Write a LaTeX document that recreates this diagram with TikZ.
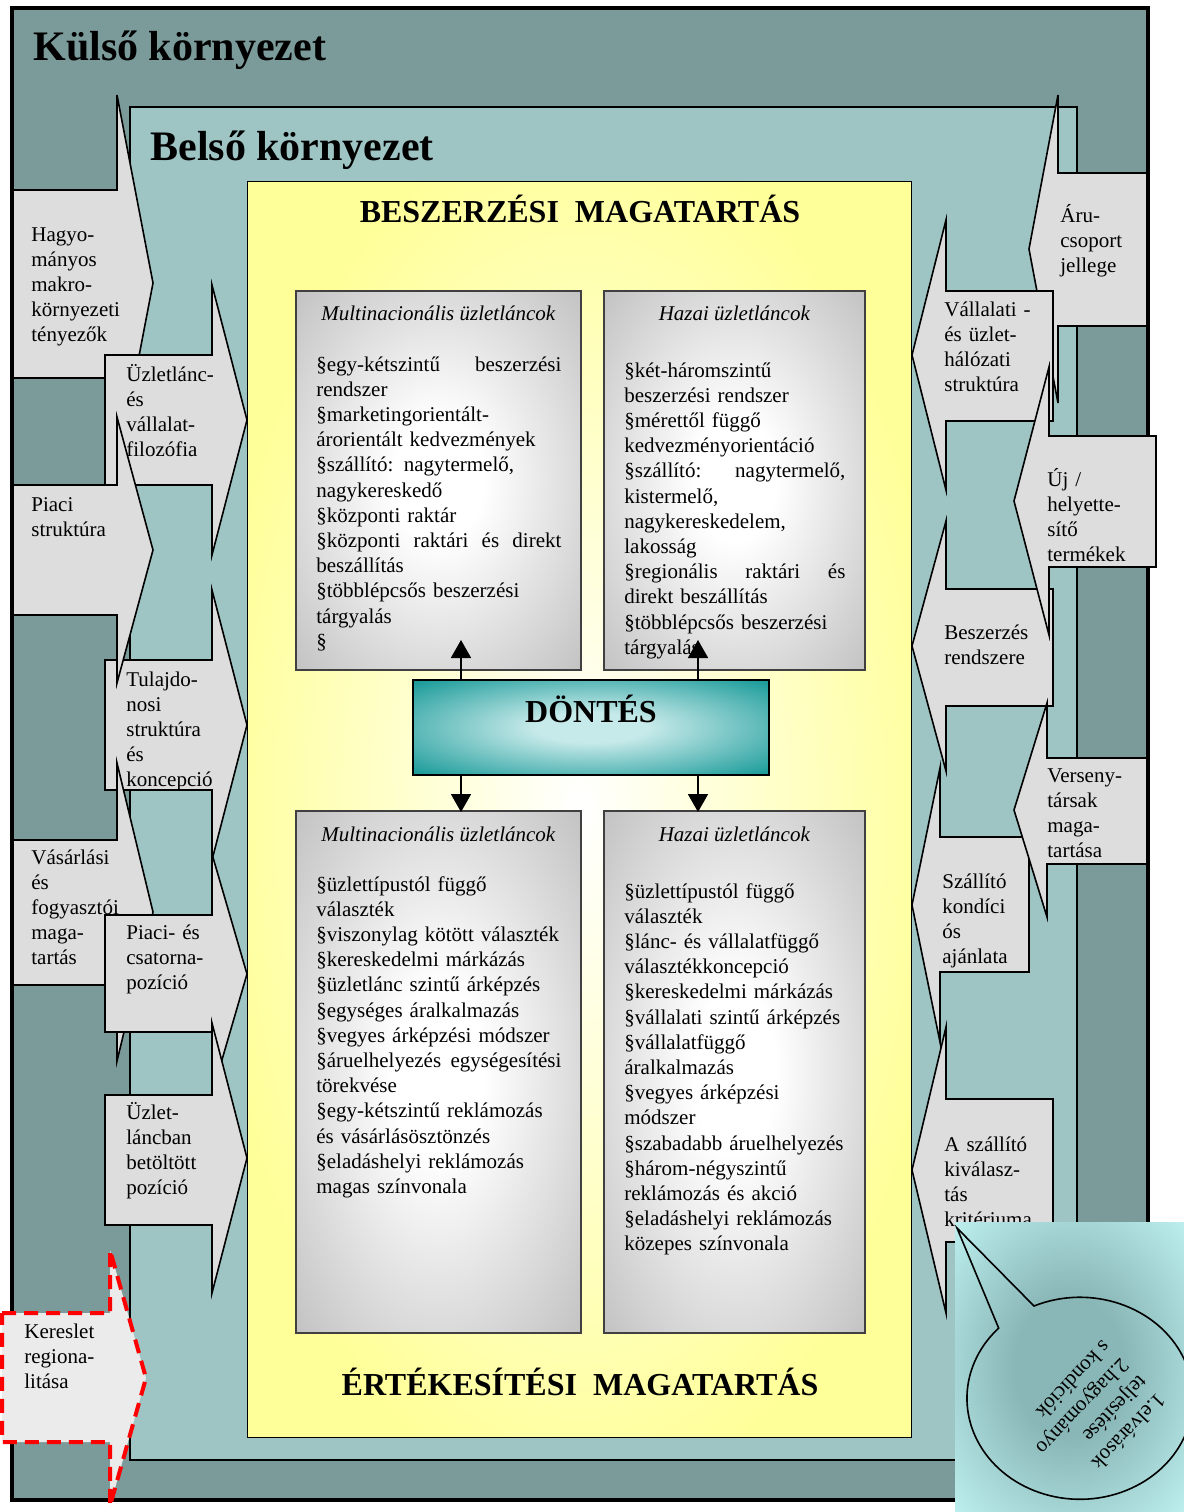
\documentclass[tikz,border=0pt]{standalone}
\usepackage{fontspec}
\setmainfont{Liberation Serif}
\usepackage{xcolor}
\usepackage{tikz}
\usetikzlibrary{calc, positioning, arrows.meta}

\definecolor{outerteal}{HTML}{7A9B9A}
\definecolor{innerteal}{HTML}{9EC4C4}
\definecolor{arrowgray}{HTML}{DDDDDD}
\definecolor{dashgray}{HTML}{EBEBEB}
\definecolor{boxyellow}{HTML}{FFFF99}
\definecolor{boxgray}{HTML}{ABABAB}
\definecolor{decteal}{HTML}{119795}
\definecolor{declight}{HTML}{C6E9E9}
\definecolor{bubblecyan}{HTML}{CCFFFF}
\definecolor{bubbledark}{HTML}{89B6B6}

\pgfdeclareradialshading{grayglow}{\pgfpointorigin}{color(0bp)=(white); color(8bp)=(white); color(46bp)=(boxgray); color(100bp)=(boxgray)}
\pgfdeclareradialshading{yellowglow}{\pgfpointorigin}{color(0bp)=(white); color(28bp)=(boxyellow); color(100bp)=(boxyellow)}
\pgfdeclareradialshading{decglow}{\pgfpointorigin}{color(0bp)=(declight); color(8bp)=(declight); color(36bp)=(decteal); color(100bp)=(decteal)}
\pgfdeclareradialshading{bubbleglow}{\pgfpointorigin}{color(0bp)=(bubbledark); color(12bp)=(bubbledark); color(42bp)=(bubblecyan); color(100bp)=(bubblecyan)}

\newcommand{\bodyfont}{\fontsize{10.5}{12.6}\selectfont}
% nyilas szövegdoboz: x0, nyaktő, csúcs, doboz teteje, alja, fej teteje, alja
\newcommand{\callout}[8][arrowbox]{\filldraw[#1] (#2,#5) -- (#3,#5) -- (#3,#7) -- (#4,{(#7+#8)/2}) -- (#3,#8) -- (#3,#6) -- (#2,#6) -- cycle;}

\begin{document}
\begin{tikzpicture}[x=0.5pt, y=-0.5pt,
    arrowbox/.style={fill=arrowgray, draw=black, line width=0.8pt},
    dasharrowbox/.style={fill=dashgray, draw=red, line width=2pt, dash pattern=on 7pt off 4pt},
    sidetext/.style={anchor=base west, align=left, inner sep=0pt, text width=60pt, font=\bodyfont},
    listtext/.style={anchor=base west, align=left, inner sep=0pt, font=\bodyfont},
    headtext/.style={anchor=base, inner sep=0pt, font=\bodyfont\itshape},
    titletext/.style={anchor=base west, inner sep=0pt, font=\bfseries\fontsize{21}{25}\selectfont},
    captext/.style={anchor=base, inner sep=0pt, font=\bfseries\fontsize{16}{19}\selectfont},
    yellowbox/.style={draw=black, line width=0.6pt, shading=yellowglow, anchor=north west, inner sep=0pt},
    graybox/.style={draw=black!75, line width=0.8pt, shading=grayglow, anchor=north west, inner sep=0pt},
    decbox/.style={draw=black, line width=0.8pt, shading=decglow, inner sep=0pt},
    decarrow/.style={-{Triangle[length=9pt,width=10pt]}, line width=0.9pt}]

    \useasboundingbox (0,0) rectangle (1184,1512);
    \fill[white] (0,0) rectangle (1184,1512);

    % Külső és belső környezet
    \filldraw[fill=outerteal, line width=2pt] (12,8) rectangle (1148,1500);
    \node[titletext] (kulso) at (33,60) {Külső környezet};
    \filldraw[fill=innerteal, line width=0.8pt] (130,107) rectangle (1077,1460);
    \node[titletext] (belso) at (150,160) {Belső környezet};

    % Magatartás
    \node[yellowbox, minimum width=332pt, minimum height=628pt] (magatartas) at (247,181) {};
    \node[captext] (beszerzesi) at (580,222) {BESZERZÉSI\ \ MAGATARTÁS};
    \node[captext] (ertekesitesi) at (580,1395) {ÉRTÉKESÍTÉSI\ \ MAGATARTÁS};

    % Beszerzési dobozok
    \node[graybox, minimum width=142.5pt, minimum height=189.5pt] (buyml) at (295,290) {};
    \node[graybox, minimum width=130.5pt, minimum height=189.5pt] (buyhu) at (603,290) {};
    \node[headtext] (buymlhead) at ($(buyml.north)+(0,30)$) {Multinacionális üzletláncok};
    \node[headtext] (buyhuhead) at ($(buyhu.north)+(0,30)$) {Hazai üzletláncok};
    \node[listtext, text width=122.5pt] (buymltext) at (316,371) {%
        §egy-kétszintű\hfill beszerzési\\
        rendszer\\
        §marketingorientált-\\
        árorientált kedvezmények\\
        §szállító: nagytermelő,\\
        nagykereskedő\\
        §központi raktár\\
        §központi\hfill raktári\hfill és\hfill direkt\\
        beszállítás\\
        §többlépcsős beszerzési\\
        tárgyalás\\
        §};
    \node[listtext, text width=110.5pt] (buyhutext) at (624,377) {%
        §két-háromszintű\\
        beszerzési rendszer\\
        §mérettől függő\\
        kedvezményorientáció\\
        §szállító:\hfill nagytermelő,\\
        kistermelő,\\
        nagykereskedelem,\\
        lakosság\\
        §regionális\hfill raktári\hfill és\\
        direkt beszállítás\\
        §többlépcsős beszerzési\\
        tárgyalás};

    % Értékesítési dobozok
    \node[graybox, minimum width=142.5pt, minimum height=261pt] (sellml) at (295,810) {};
    \node[graybox, minimum width=130.5pt, minimum height=261pt] (sellhu) at (603,810) {};
    \node[headtext] (sellmlhead) at ($(sellml.north)+(0,31)$) {Multinacionális üzletláncok};
    \node[headtext] (sellhuhead) at ($(sellhu.north)+(0,31)$) {Hazai üzletláncok};
    \node[listtext, text width=122.5pt] (sellmltext) at (316,891) {%
        §üzlettípustól függő\\
        választék\\
        §viszonylag kötött választék\\
        §kereskedelmi márkázás\\
        §üzletlánc szintű árképzés\\
        §egységes áralkalmazás\\
        §vegyes árképzési módszer\\
        §áruelhelyezés\hfill egységesítési\\
        törekvése\\
        §egy-kétszintű reklámozás\\
        és vásárlásösztönzés\\
        §eladáshelyi reklámozás\\
        magas színvonala};
    \node[listtext, text width=110.5pt] (sellhutext) at (624,898) {%
        §üzlettípustól függő\\
        választék\\
        §lánc- és vállalatfüggő\\
        választékkoncepció\\
        §kereskedelmi márkázás\\
        §vállalati szintű árképzés\\
        §vállalatfüggő\\
        áralkalmazás\\
        §vegyes árképzési\\
        módszer\\
        §szabadabb áruelhelyezés\\
        §három-négyszintű\\
        reklámozás és akció\\
        §eladáshelyi reklámozás\\
        közepes színvonala};

    % Döntés és nyilai
    \node[decbox, minimum width=178pt, minimum height=47.5pt] (dontes) at (591,727.5) {};
    \node[captext] (donteslabel) at (591,722) {DÖNTÉS};
    \coordinate (buymltip) at (461,640);
    \coordinate (buyhutip) at (698,640);
    \coordinate (sellmltip) at (461,812);
    \coordinate (sellhutip) at (698,812);
    \draw[decarrow] (dontes.north -| buymltip) -- (buymltip);
    \draw[decarrow] (dontes.north -| buyhutip) -- (buyhutip);
    \draw[decarrow] (dontes.south -| sellmltip) -- (sellmltip);
    \draw[decarrow] (dontes.south -| sellhutip) -- (sellhutip);

    % Bal oldali tényezők
    \callout{12}{117}{153}{190}{378}{95}{471}
    \node[sidetext] (hagyomanyos) at (31,241) {Hagyo-\\mányos\\makro-\\környezeti\\tényezők};
    \callout{105}{212}{247}{355}{485}{285}{555}
    \node[sidetext] (uzletlanc) at (126,381) {Üzletlánc-\\és\\vállalat-\\filozófia};
    \callout{105}{212}{247}{660}{790}{590}{860}
    \node[sidetext] (tulajdonosi) at (126,686) {Tulajdo-\\nosi\\struktúra\\és\\koncepció};
    \callout{12}{117}{153}{485}{615}{417}{683}
    \node[sidetext] (piaci) at (31,511) {Piaci\\struktúra};
    \callout{12}{117}{153}{840}{985}{763}{1061}
    \node[sidetext] (vasarlasi) at (31,864) {Vásárlási\\és\\fogyasztói\\maga-\\tartás};
    \callout{105}{212}{247}{915}{1032}{854}{1094}
    \node[sidetext] (csatorna) at (126,939) {Piaci- és\\csatorna-\\pozíció};
    \callout{105}{212}{247}{1095}{1225}{1023}{1293}
    \node[sidetext] (betoltott) at (126,1119) {Üzlet-\\láncban\\betöltött\\pozíció};

    % Jobb oldali tényezők
    \callout{1148}{1058}{1029}{173}{326}{95}{403}
    \node[sidetext] (arucsoport) at (1060,222) {Áru-\\csoport\\jellege};
    \callout{1053}{946}{912}{291}{421}{220}{490}
    \node[sidetext] (vallalati) at (944,316) {Vállalati -\\és üzlet-\\hálózati\\struktúra};
    \callout{1053}{946}{912}{589}{706}{521}{771}
    \node[sidetext] (rendszere) at (944,639) {Beszerzés\\rendszere};
    \callout{1029}{940}{912}{837}{972}{768}{1042}
    \node[sidetext] (kondiciok) at (942,888) {Szállító\\kondíci\\ós\\ajánlata};
    \callout{1148}{1047}{1014}{758}{864}{703}{917}
    \node[sidetext] (versenytarsak) at (1047,782) {Verseny-\\társak\\maga-\\tartása};
    \callout{1053}{946}{912}{1099}{1242}{1027}{1313}
    \node[sidetext] (kriterium) at (944,1151) {A szállító\\kiválasz-\\tás\\kritériuma};

    % külső keret újra
    \draw[line width=2pt] (12,8) rectangle (1148,1500);

    \callout{1156}{1049}{1014}{436}{567}{367}{635}
    \node[sidetext] (helyettesito) at (1047,486) {Új /\\helyette-\\sítő\\termékek};
    \callout[dasharrowbox]{2}{110}{146}{1313}{1442}{1250}{1506}
    \node[sidetext] (kereslet) at (24,1338) {Kereslet\\regiona-\\litása};

    % Buborék
    \shade[shading=bubbleglow] (955,1222) rectangle (1184,1512);
    \coordinate (bubbletip) at (957,1228);
    \draw[line width=0.8pt] (bubbletip) -- (1034,1306)
        arc[start angle=246, end angle=584, x radius=113, y radius=101] -- cycle;
    \node[rotate=226.5, align=left, inner sep=0pt, font=\bodyfont] (elvarasok) at (1092,1416)
        {1.elvárások\\teljesítése\\2.hagyományo\\s kondíciók};
\end{tikzpicture}
\end{document}
